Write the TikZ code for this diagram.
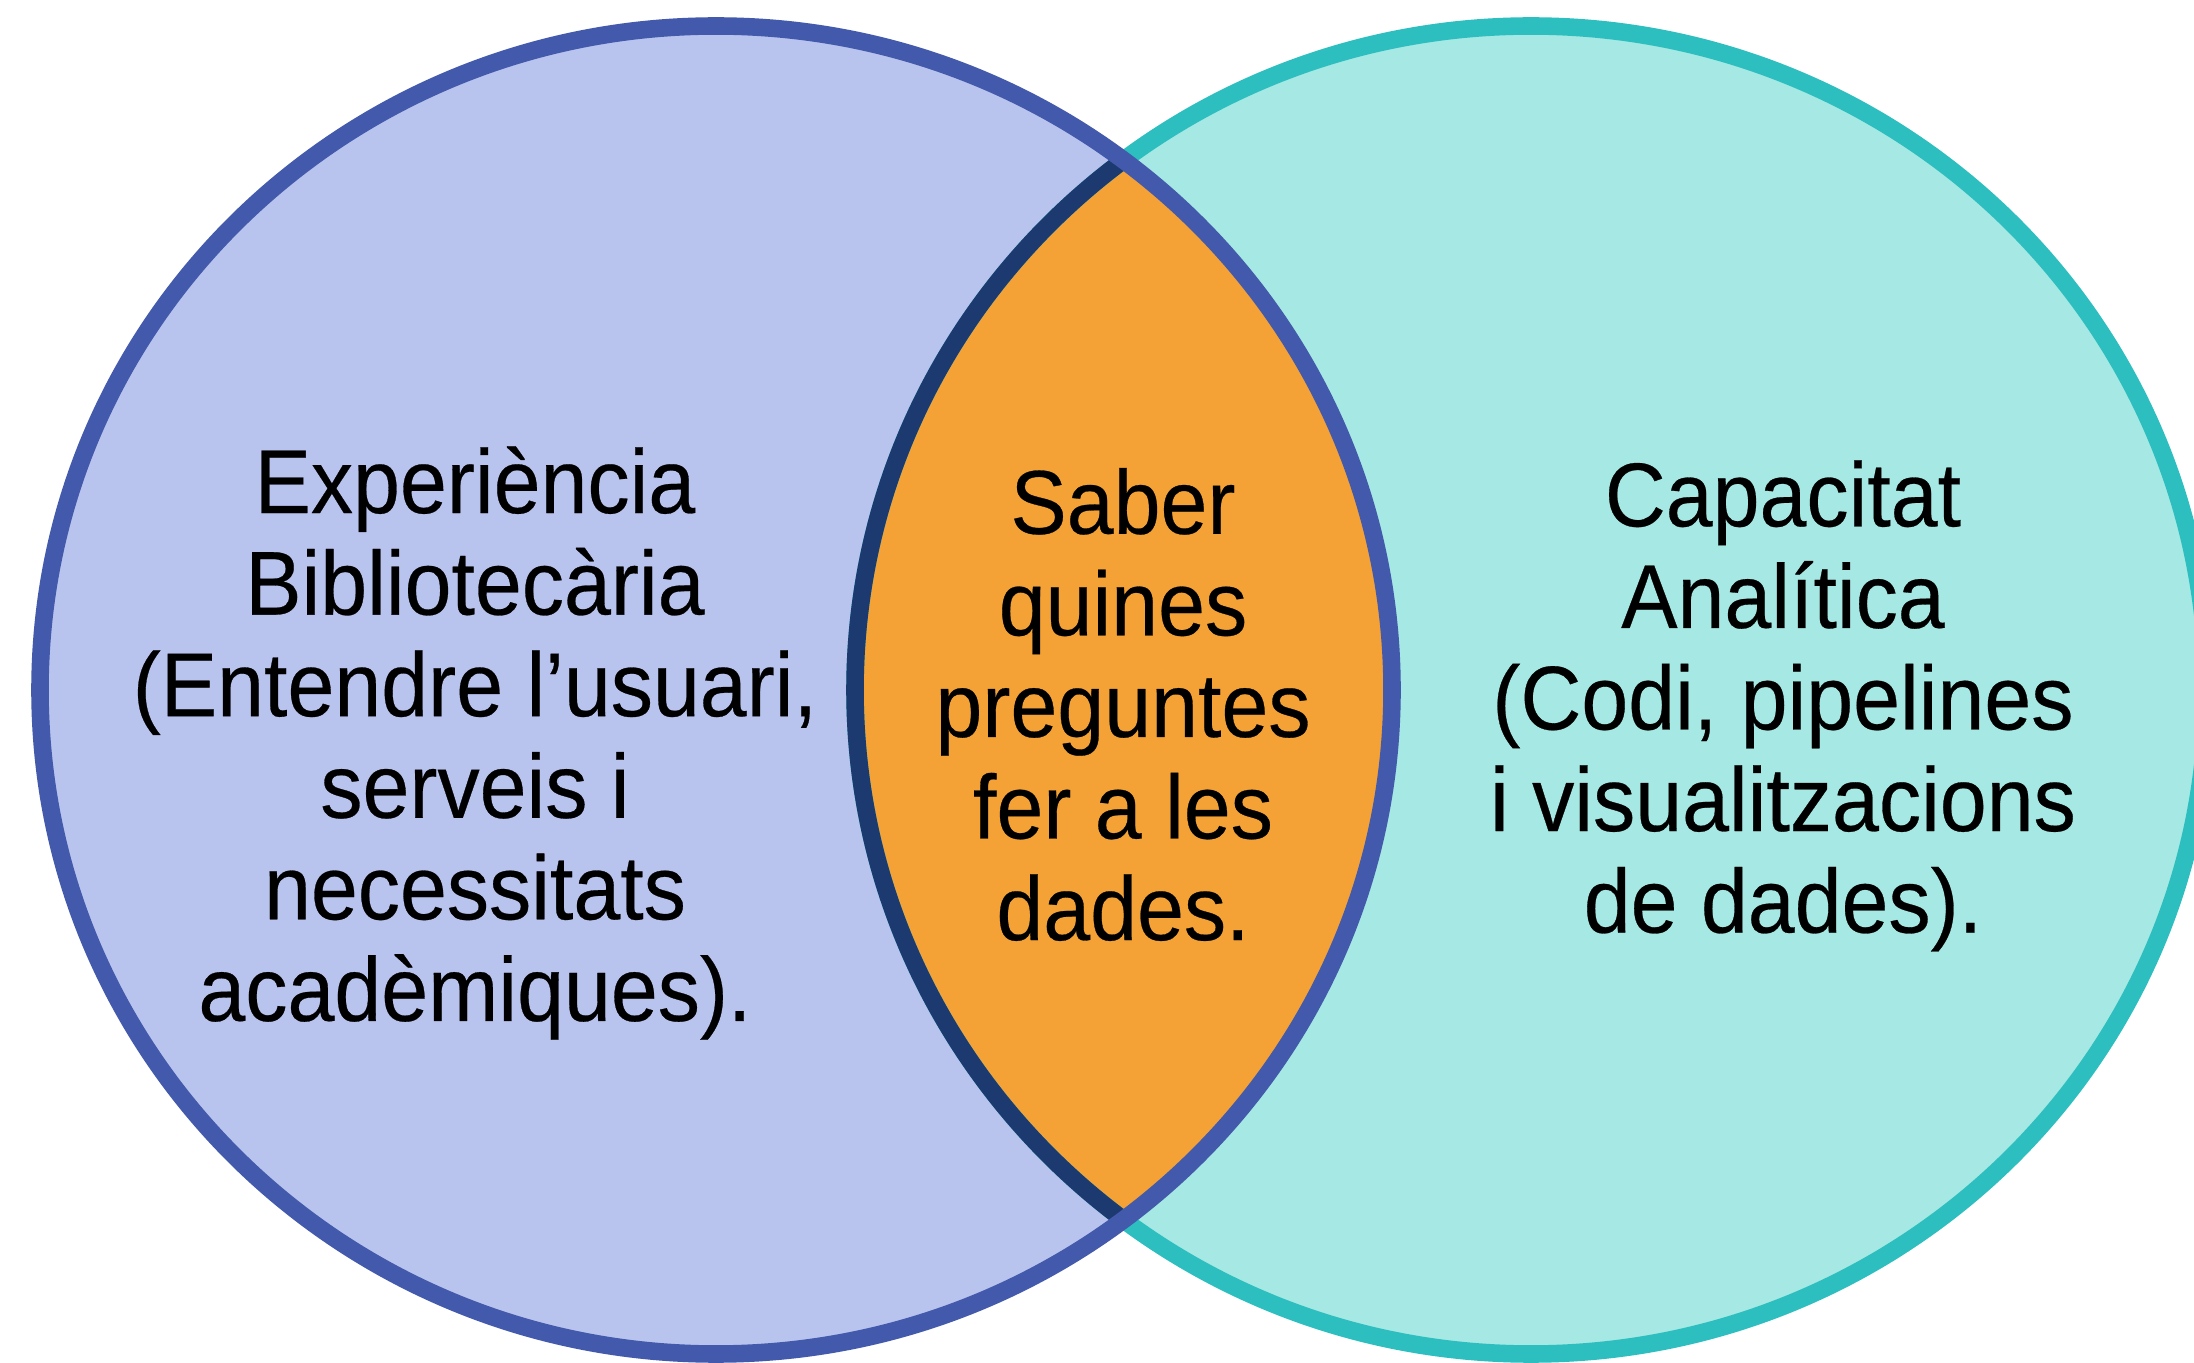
\documentclass[tikz,border=0pt]{standalone}
\usepackage{fontspec}
\setmainfont{Liberation Sans}
\newfontfamily\vennfont[FakeStretch=0.93, FakeBold=0.3]{Liberation Sans}
\usetikzlibrary{positioning}

\definecolor{libfill}{HTML}{B9C4EE}
\definecolor{libline}{HTML}{4259AC}
\definecolor{anafill}{HTML}{A6E8E3}
\definecolor{analine}{HTML}{2DBFC0}
\definecolor{lensfill}{HTML}{F4A236}
\definecolor{lensline}{HTML}{1D3A70}

\begin{document}
\begin{tikzpicture}[
  venntext/.style={font=\vennfont\fontsize{25.8}{28.9}\selectfont, align=center, text=black},
  ring/.style={line width=5pt}
]
\useasboundingbox (0,0) rectangle (21.94,13.62);

% Circle centres
\coordinate (libc) at (7.16,6.72);
\coordinate (anac) at (15.31,6.72);

% Fills
\fill[libfill] (libc) ellipse [x radius=6.76, y radius=6.64];
\fill[anafill] (anac) ellipse [x radius=6.76, y radius=6.64];
\begin{scope}
  \clip (libc) ellipse [x radius=6.76, y radius=6.64];
  \fill[lensfill] (anac) ellipse [x radius=6.76, y radius=6.64];
\end{scope}

% Outlines
\draw[ring, analine] (anac) ellipse [x radius=6.76, y radius=6.64];
\begin{scope}
  \clip (libc) ellipse [x radius=6.76, y radius=6.64];
  \draw[ring, lensline] (anac) ellipse [x radius=6.76, y radius=6.64];
\end{scope}
\draw[ring, libline] (libc) ellipse [x radius=6.76, y radius=6.64];

% Labels
\node[venntext] (lib) at (4.75,6.19) {Experiència\\Bibliotecària\\(Entendre l’usuari,\\serveis i\\necessitats\\acadèmiques).};
\node[venntext] (lens) at (11.23,6.575) {Saber\\quines\\preguntes\\fer a les\\dades.};
\node[venntext] (ana) at (17.83,6.56) {Capacitat\\Analítica\\(Codi, pipelines\\i visualitzacions\\de dades).};
\end{tikzpicture}
\end{document}
